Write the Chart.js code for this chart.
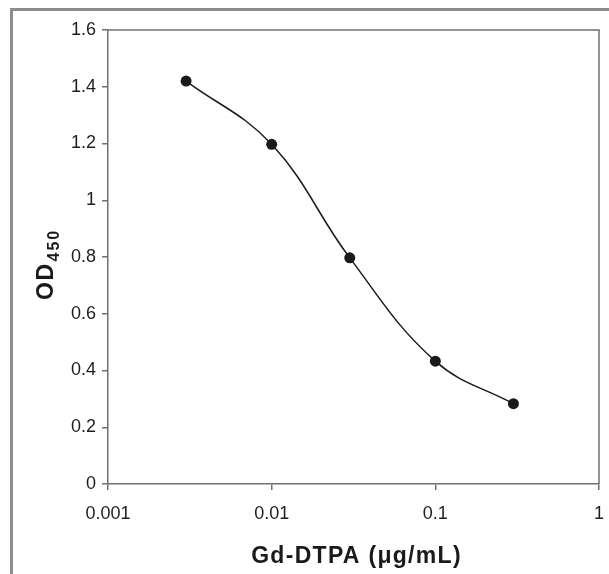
<!DOCTYPE html>
<html><head><meta charset="utf-8">
<script src="https://cdn.jsdelivr.net/npm/chart.js@4"></script>
<style>
html,body{margin:0;padding:0;background:#fff}
#wrap{position:relative;width:609px;height:574px;overflow:hidden;background:#fff}
#frame{position:absolute;left:10px;top:8px;width:700px;height:700px;border-left:3px solid #8c8c8c;border-top:3px solid #8c8c8c;pointer-events:none}
canvas{position:absolute;left:0;top:0}
</style></head><body>
<div id="wrap"><canvas id="c" width="609" height="574"></canvas><div id="frame"></div></div>
<script>
const concentrations = [0.003, 0.01, 0.03, 0.1, 0.3];
const od450 = [1.42, 1.197, 0.797, 0.433, 0.283];
const xTickValues = [0.001, 0.01, 0.1, 1];
const yTickValues = [0, 0.2, 0.4, 0.6, 0.8, 1, 1.2, 1.4, 1.6];
const xTitle = 'Gd-DTPA (\u03bcg/mL)';
const yTitleMain = 'OD';
const yTitleSub = '450';

const FONT = "'Liberation Sans', Arial, sans-serif";
const axisColor = '#707070';

const titlePlugin = {
  id: 'titles',
  afterDraw(chart) {
    const ctx = chart.ctx;
    const a = chart.chartArea;
    ctx.save();
    ctx.strokeStyle = axisColor;
    ctx.lineWidth = 1.5;
    ctx.beginPath();
    ctx.moveTo(a.left, a.top);
    ctx.lineTo(a.right, a.top);
    ctx.lineTo(a.right, a.bottom);
    ctx.stroke();
    ctx.fillStyle = '#1a1a1a';
    ctx.font = 'bold 23px ' + FONT;
    ctx.letterSpacing = '1.3px';
    ctx.textAlign = 'center';
    ctx.textBaseline = 'alphabetic';
    ctx.fillText(xTitle, (a.left + a.right) / 2 + 3, 563);
    ctx.textAlign = 'left';
    ctx.translate(53, 300);
    ctx.rotate(-Math.PI / 2);
    ctx.font = 'bold 23px ' + FONT;
    ctx.letterSpacing = '1.5px';
    ctx.fillText(yTitleMain, 0, 0);
    const w = ctx.measureText(yTitleMain).width;
    ctx.font = 'bold 16px ' + FONT;
    ctx.letterSpacing = '2px';
    ctx.fillText(yTitleSub, w + 1, 6);
    ctx.restore();
  }
};

new Chart(document.getElementById('c'), {
  type: 'scatter',
  data: {
    datasets: [{
      data: concentrations.map((x, i) => ({ x: x, y: od450[i] })),
      showLine: true,
      tension: 0.4,
      borderColor: '#1a1a1a',
      borderWidth: 1.5,
      pointRadius: 5.5,
      pointBackgroundColor: '#1a1a1a',
      pointBorderWidth: 0,
      clip: false
    }]
  },
  options: {
    responsive: false,
    animation: false,
    events: [],
    layout: { padding: { left: 0, top: 30, right: 10, bottom: 0 } },
    plugins: { legend: { display: false }, tooltip: { enabled: false } },
    scales: {
      x: {
        type: 'logarithmic',
        min: 0.001, max: 1,
        afterBuildTicks: s => { s.ticks = xTickValues.map(v => ({ value: v, major: true })); },
        afterFit: s => { s.height = 90; s.paddingRight = 0; s.paddingLeft = 0; },
        ticks: {
          autoSkip: false, maxRotation: 0, padding: 13,
          color: '#1e1e1e', font: { family: FONT, size: 18 },
          callback: v => String(v)
        },
        grid: { drawOnChartArea: false, drawTicks: true, tickLength: 6, color: axisColor, lineWidth: 1.5 },
        border: { display: true, color: axisColor, width: 1.5 }
      },
      y: {
        type: 'linear',
        min: 0, max: 1.6,
        afterBuildTicks: s => { s.ticks = yTickValues.map(v => ({ value: v })); },
        afterFit: s => { s.width = 108; s.paddingTop = 0; s.paddingBottom = 0; },
        ticks: {
          padding: 6,
          color: '#1e1e1e', font: { family: FONT, size: 18 },
          callback: v => String(+Number(v).toFixed(1))
        },
        grid: { drawOnChartArea: false, drawTicks: true, tickLength: 6, color: axisColor, lineWidth: 1.5 },
        border: { display: true, color: axisColor, width: 1.5 }
      }
    }
  },
  plugins: [titlePlugin]
});
</script>
</body></html>
